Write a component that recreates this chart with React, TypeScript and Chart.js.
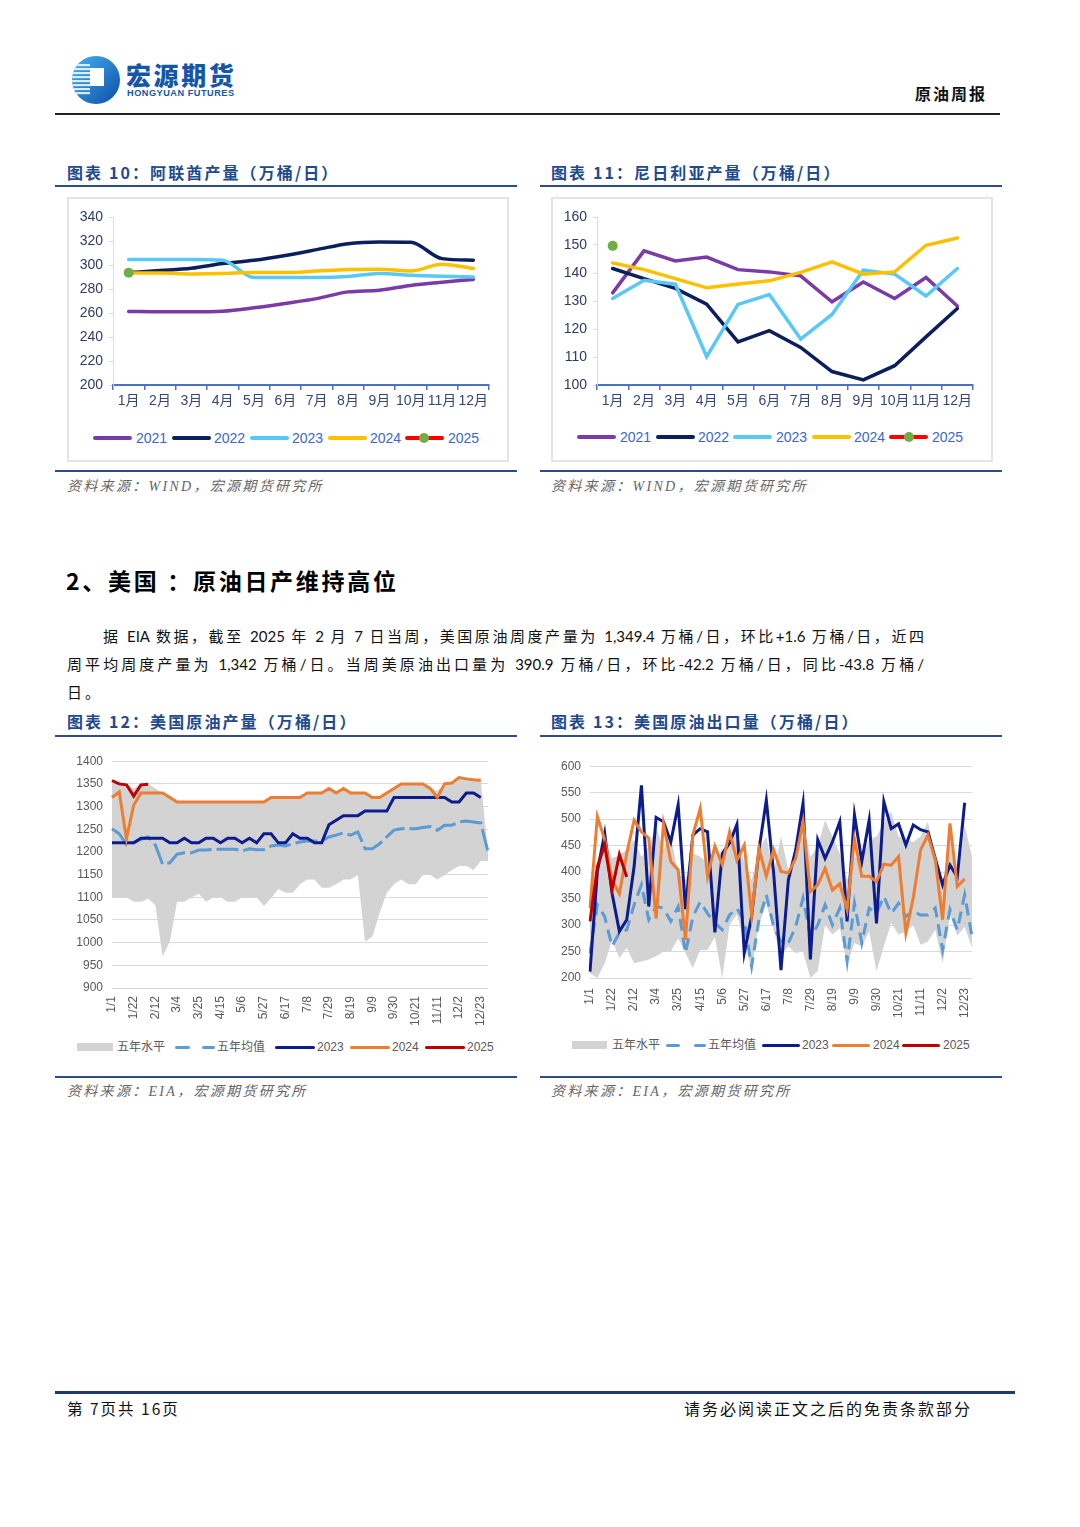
import React, { useEffect, useRef } from "react";
import { Chart, registerables } from "chart.js";

Chart.register(...registerables);

const FONT = "'Liberation Sans', Arial, 'Noto Sans CJK SC', sans-serif";
const CJK = "'Noto Sans CJK SC', 'Liberation Sans', sans-serif";
const PARA = "Lato, 'Noto Sans CJK SC', sans-serif";

// ---------- Chart 10 / 11 (monthly) ----------
const MONTHS = ["1月", "2月", "3月", "4月", "5月", "6月", "7月", "8月", "9月", "10月", "11月", "12月"];
const YEAR_LABELS = ["2021", "2022", "2023", "2024", "2025"];

const UAE_2021 = [261.3, 261, 261, 261.5, 264.3, 268, 272, 277.6, 279, 283, 285.7, 288];
const UAE_2022 = [293.7, 295.4, 297.3, 301.2, 304, 308, 312.8, 317.8, 319.2, 319, 305.3, 304];
const UAE_2023 = [304.5, 304.5, 304.5, 304, 289.5, 289.5, 289.5, 290.4, 293, 291.5, 290.6, 290];
const UAE_2024 = [293.4, 293.4, 292.6, 293, 293.7, 293.7, 295, 296.2, 296.5, 295, 300.6, 297];
const UAE_2025 = [293.5, null, null, null, null, null, null, null, null, null, null, null];

const NGA_2021 = [132.9, 147.9, 144.3, 145.7, 141.2, 140.4, 139, 129.7, 136.8, 130.9, 138.4, 128.2];
const NGA_2022 = [141.6, 138, 134.5, 128.9, 115.4, 119.4, 113.4, 104.8, 101.8, 106.9, 117.2, 127.3];
const NGA_2023 = [130.9, 137.4, 136, 110.1, 128.8, 132.3, 116.4, 125.2, 141, 139.6, 131.8, 141.6];
const NGA_2024 = [143.6, 141.2, 138, 134.7, 136.1, 137.2, 140.2, 144, 139.6, 140.4, 149.9, 152.5];
const NGA_2025 = [149.7, null, null, null, null, null, null, null, null, null, null, null];

const UAE_TICKS = { min: 200, max: 340, step: 20 };
const NGA_TICKS = { min: 100, max: 160, step: 10 };

const YEAR_COLORS = ["#7A3BA8", "#0B1F5E", "#58C9F6", "#FFC000", "#FF0000"];
const MARKER_GREEN = "#70AD47";

// ---------- Chart 12 / 13 (weekly) ----------
const WEEKS = [
  "1/1", "1/8", "1/15", "1/22", "1/29", "2/5", "2/12", "2/19", "2/26", "3/4", "3/11", "3/18", "3/25",
  "4/1", "4/8", "4/15", "4/22", "4/29", "5/6", "5/13", "5/20", "5/27", "6/3", "6/10", "6/17", "6/24",
  "7/1", "7/8", "7/15", "7/22", "7/29", "8/5", "8/12", "8/19", "8/26", "9/2", "9/9", "9/16", "9/23",
  "9/30", "10/7", "10/14", "10/21", "10/28", "11/4", "11/11", "11/18", "11/25", "12/2", "12/9", "12/16",
  "12/23", "12/30",
];
const WEEKLY_LEGEND = ["五年水平", "五年均值", "2023", "2024", "2025"];

const PROD_LOW = [1100, 1100, 1100, 1090, 1090, 1097, 1083, 970, 1002, 1090, 1090, 1100, 1108, 1090, 1100, 1100, 1090, 1090, 1100, 1100, 1100, 1081, 1098, 1118, 1110, 1110, 1129, 1139, 1139, 1121, 1121, 1129, 1139, 1139, 1149, 1002, 1013, 1065, 1110, 1129, 1139, 1129, 1129, 1149, 1149, 1139, 1149, 1160, 1169, 1169, 1160, 1180, 1180];
const PROD_HIGH = [1352, 1350, 1350, 1340, 1350, 1350, 1340, 1330, 1325, 1312, 1310, 1310, 1310, 1310, 1310, 1310, 1310, 1310, 1310, 1310, 1310, 1310, 1320, 1320, 1320, 1320, 1320, 1330, 1330, 1330, 1340, 1330, 1340, 1330, 1330, 1330, 1320, 1320, 1330, 1340, 1350, 1350, 1350, 1350, 1340, 1335, 1350, 1352, 1364, 1361, 1359, 1358, 1200];
const PROD_AVG = [1251, 1240, 1216, 1220, 1228, 1233, 1215, 1173, 1176, 1195, 1198, 1198, 1204, 1204, 1206, 1206, 1206, 1206, 1202, 1207, 1205, 1205, 1213, 1215, 1213, 1218, 1222, 1224, 1224, 1224, 1233, 1237, 1242, 1237, 1244, 1207, 1207, 1218, 1233, 1248, 1251, 1251, 1251, 1254, 1256, 1248, 1259, 1259, 1266, 1268, 1266, 1264, 1200];
const PROD_2023 = [1220, 1220, 1220, 1220, 1230, 1230, 1230, 1230, 1220, 1220, 1230, 1220, 1220, 1230, 1230, 1220, 1230, 1230, 1220, 1230, 1220, 1240, 1240, 1220, 1220, 1240, 1230, 1230, 1220, 1220, 1260, 1270, 1280, 1280, 1280, 1290, 1290, 1290, 1290, 1320, 1320, 1320, 1320, 1320, 1320, 1320, 1320, 1310, 1310, 1330, 1330, 1320, null];
const PROD_2024 = [1320, 1332, 1229, 1303, 1330, 1330, 1330, 1330, 1320, 1310, 1310, 1310, 1310, 1310, 1310, 1310, 1310, 1310, 1310, 1310, 1310, 1310, 1320, 1320, 1320, 1320, 1320, 1330, 1330, 1330, 1340, 1330, 1340, 1330, 1330, 1330, 1320, 1320, 1330, 1340, 1350, 1350, 1350, 1350, 1340, 1320, 1350, 1352, 1364, 1361, 1359, 1358, null];
const PROD_2025 = [1357, 1350, 1348, 1323, 1347.8, 1349.4, null, null, null, null, null, null, null, null, null, null, null, null, null, null, null, null, null, null, null, null, null, null, null, null, null, null, null, null, null, null, null, null, null, null, null, null, null, null, null, null, null, null, null, null, null, null, null];

const EXP_LOW = [209, 200, 228, 272, 238, 257, 228, 231, 235, 241, 250, 250, 275, 247, 219, 253, 253, 278, 200, 300, 320, 266, 216, 300, 340, 290, 241, 260, 247, 250, 200, 213, 300, 282, 294, 225, 266, 260, 288, 213, 260, 304, 282, 288, 300, 263, 269, 291, 228, 320, 280, 297, 257];
const EXP_HIGH = [335, 398, 467, 426, 432, 442, 461, 429, 448, 486, 442, 467, 398, 385, 435, 429, 417, 448, 420, 467, 483, 417, 385, 442, 467, 398, 467, 404, 435, 486, 429, 448, 498, 467, 435, 385, 429, 423, 461, 467, 492, 514, 467, 461, 457, 467, 495, 429, 379, 461, 373, 489, 429];
const EXP_AVG = [247, 338, 316, 260, 285, 291, 338, 376, 310, 335, 332, 307, 335, 247, 316, 344, 322, 304, 291, 319, 332, 307, 222, 310, 357, 297, 269, 266, 297, 351, 278, 300, 338, 300, 332, 231, 341, 266, 332, 322, 354, 322, 341, 316, 326, 319, 319, 332, 253, 329, 291, 357, 278];
const EXP_2023 = [212, 401, 473, 360, 288, 310, 410, 564, 335, 503, 495, 457, 527, 330, 470, 482, 476, 286, 435, 455, 490, 247, 316, 442, 536, 398, 215, 385, 442, 530, 235, 461, 426, 457, 495, 307, 508, 420, 498, 303, 533, 482, 491, 451, 489, 480, 476, 426, 376, 413, 391, 531, null];
const EXP_2024 = [332, 505, 461, 385, 359, 435, 498, 476, 464, 312, 491, 420, 404, 272, 470, 520, 392, 449, 414, 476, 422, 451, 319, 445, 392, 442, 401, 398, 426, 495, 363, 376, 407, 366, 378, 329, 462, 392, 392, 382, 415, 413, 429, 285, 351, 442, 470, 423, 310, 492, 373, 387, null];
const EXP_2025 = [307, 410, 451, 367, 433.1, 390.9, null, null, null, null, null, null, null, null, null, null, null, null, null, null, null, null, null, null, null, null, null, null, null, null, null, null, null, null, null, null, null, null, null, null, null, null, null, null, null, null, null, null, null, null, null, null, null];

const PROD_TICKS = { min: 900, max: 1400, step: 50 };
const EXP_TICKS = { min: 200, max: 600, step: 50 };

const BAND_GRAY = "#D3D3D3";
const AVG_BLUE = "#5B9BD5";
const NAVY = "#0C1C8C";
const ORANGE = "#ED7D31";
const RED = "#C00000";

// ---------- config builders ----------
function monthlyConfig(series: (number | null)[][], ticks: { min: number; max: number; step: number }, smooth: boolean): any {
  const datasets = series.map((data, i) => ({
    label: YEAR_LABELS[i],
    data,
    borderColor: YEAR_COLORS[i],
    backgroundColor: YEAR_COLORS[i],
    borderWidth: 3.5,
    pointRadius: i === 4 ? 5 : 0,
    pointBackgroundColor: i === 4 ? MARKER_GREEN : YEAR_COLORS[i],
    pointBorderWidth: 0,
    borderCapStyle: "round",
    cubicInterpolationMode: smooth ? "monotone" : "default",
    tension: 0,
    order: 4 - i,
  }));
  return {
    type: "line",
    data: { labels: MONTHS, datasets },
    options: {
      responsive: false,
      animation: false,
      devicePixelRatio: 1,
      layout: { padding: { top: 19, right: 19, bottom: 0, left: 0 } },
      plugins: { legend: { display: false }, tooltip: { enabled: false } },
      scales: {
        x: {
          type: "category",
          offset: true,
          grid: { offset: true, drawOnChartArea: false, drawTicks: true, tickLength: 5, color: "#4A72C4", lineWidth: 1.5 },
          border: { color: "#4A72C4", width: 2 },
          ticks: { color: "#34477A", font: { family: FONT, size: 14 }, padding: 3, maxRotation: 0, minRotation: 0, autoSkip: false },
          afterFit: (s: any) => { s.height = 30; },
        },
        y: {
          min: ticks.min,
          max: ticks.max,
          ticks: { stepSize: ticks.step, color: "#2D3B66", font: { family: FONT, size: 14 }, padding: 6, callback: (v: any) => String(v) },
          grid: { drawOnChartArea: false, drawTicks: true, tickLength: 4, color: "#D6DCE8" },
          border: { color: "#D6DCE8", width: 1 },
          afterFit: (s: any) => { s.width = 45; },
        },
      },
    },
  };
}

function weeklyConfig(
  low: number[], high: number[], avg: number[], y23: (number | null)[], y24: (number | null)[], y25: (number | null)[],
  ticks: { min: number; max: number; step: number }, yWidth: number, rightPad: number, xPad: number, dash: number[]
): any {
  const line = (label: string, data: any, color: string, order: number) => ({
    label, data, borderColor: color, backgroundColor: color, borderWidth: 3, pointRadius: 0, tension: 0, order, fill: false,
  });
  return {
    type: "line",
    data: {
      labels: WEEKS,
      datasets: [
        { label: WEEKLY_LEGEND[0] + "低", data: low, borderColor: "rgba(0,0,0,0)", backgroundColor: "rgba(0,0,0,0)", borderWidth: 0, pointRadius: 0, fill: false, order: 10 },
        { label: WEEKLY_LEGEND[0], data: high, borderColor: "rgba(0,0,0,0)", backgroundColor: BAND_GRAY, borderWidth: 0, pointRadius: 0, fill: "-1", order: 9 },
        { ...line(WEEKLY_LEGEND[1], avg, AVG_BLUE, 3), borderDash: dash },
        line(WEEKLY_LEGEND[2], y23, NAVY, 2),
        line(WEEKLY_LEGEND[3], y24, ORANGE, 1),
        line(WEEKLY_LEGEND[4], y25, RED, 0),
      ],
    },
    options: {
      responsive: false,
      animation: false,
      devicePixelRatio: 1,
      layout: { padding: { top: 16, right: rightPad, bottom: 0, left: 0 } },
      plugins: { legend: { display: false }, tooltip: { enabled: false }, filler: { drawTime: "beforeDatasetsDraw" } },
      scales: {
        x: {
          type: "category",
          offset: false,
          grid: { display: false, drawTicks: false },
          border: { display: false },
          ticks: {
            autoSkip: false, maxRotation: 90, minRotation: 90, padding: xPad, color: "#595959",
            font: { family: FONT, size: 12 },
            callback: (_v: any, i: number) => (i % 3 === 0 ? WEEKS[i] : ""),
          },
          afterFit: (s: any) => { s.height = 45; },
        },
        y: {
          min: ticks.min,
          max: ticks.max,
          ticks: { stepSize: ticks.step, color: "#595959", font: { family: FONT, size: 12 }, padding: 9, callback: (v: any) => String(v) },
          grid: { color: "#D9D9D9", drawTicks: false, lineWidth: 1 },
          border: { display: false },
          afterFit: (s: any) => { s.width = yWidth; },
        },
      },
    },
  };
}

function ChartCanvas({ left, top, width, height, make }: { left: number; top: number; width: number; height: number; make: () => any }) {
  const ref = useRef<HTMLCanvasElement>(null);
  useEffect(() => {
    const chart = new Chart(ref.current as HTMLCanvasElement, make());
    return () => chart.destroy();
  }, []);
  return <canvas ref={ref} width={width} height={height} style={{ position: "absolute", left, top, width, height }} />;
}

// ---------- small layout helpers ----------
const abs = (left: number, top: number, extra: any = {}) => ({ position: "absolute" as const, left, top, ...extra });

function MonthlyLegend({ lines, texts, cy, dotX }: { lines: number[]; texts: number[]; cy: number; dotX: number }) {
  return (
    <>
      {YEAR_LABELS.map((lab, i) => (
        <React.Fragment key={lab}>
          <div style={abs(lines[i], cy - 2, { width: 39, height: 4, borderRadius: 2, background: YEAR_COLORS[i] })} />
          <div style={abs(texts[i], cy - 9, { fontFamily: FONT, fontSize: 14, lineHeight: "18px", color: "#3B66D2", whiteSpace: "nowrap" })}>{lab}</div>
        </React.Fragment>
      ))}
      <div style={abs(dotX - 5, cy - 5, { width: 10, height: 10, borderRadius: 5, background: MARKER_GREEN })} />
    </>
  );
}

function WeeklyLegend({ cy, rect, t1, d1, d2, t2, l3, t3, l4, t4, l5, t5, lw }: any) {
  const txt = (x: number, s: string) => (
    <div style={abs(x, cy - 8, { fontFamily: FONT, fontSize: 12, lineHeight: "16px", color: "#595959", whiteSpace: "nowrap" })}>{s}</div>
  );
  const bar = (x: number, w: number, c: string) => <div style={abs(x, cy - 1.5, { width: w, height: 3, borderRadius: 1.5, background: c })} />;
  return (
    <>
      <div style={abs(rect[0], cy - 4, { width: rect[1] - rect[0], height: 8, background: BAND_GRAY })} />
      {txt(t1, WEEKLY_LEGEND[0])}
      {bar(d1[0], d1[1], AVG_BLUE)}
      {bar(d2[0], d2[1], AVG_BLUE)}
      {txt(t2, WEEKLY_LEGEND[1])}
      {bar(l3, lw, NAVY)}
      {txt(t3, WEEKLY_LEGEND[2])}
      {bar(l4, lw, ORANGE)}
      {txt(t4, WEEKLY_LEGEND[3])}
      {bar(l5, lw, RED)}
      {txt(t5, WEEKLY_LEGEND[4])}
    </>
  );
}

const TITLE_BLUE = "#1F4A8F";
const RULE_BLUE = "#2E4C8A";

function Title({ x, y, text }: { x: number; y: number; text: string }) {
  return (
    <div style={abs(x, y - 11, { fontFamily: CJK, fontSize: 16, fontWeight: 700, lineHeight: "22px", letterSpacing: 2.1, color: TITLE_BLUE, whiteSpace: "nowrap" })}>
      {text}
    </div>
  );
}
function Rule({ x, y, w, h = 2, c = RULE_BLUE }: { x: number; y: number; w: number; h?: number; c?: string }) {
  return <div style={abs(x, y, { width: w, height: h, background: c })} />;
}
function Source({ x, y, text }: { x: number; y: number; text: string }) {
  return (
    <div style={abs(x, y - 10, { fontFamily: "'Liberation Serif', 'Noto Sans CJK SC', serif", fontStyle: "italic", fontSize: 14, lineHeight: "20px", letterSpacing: 2.3, color: "#666666", whiteSpace: "nowrap" })}>
      {text}
    </div>
  );
}

function Logo() {
  const stripes = [0, 1, 2, 3, 4, 5, 6, 7];
  return (
    <svg style={abs(71, 55)} width={50} height={50} viewBox="0 0 50 50">
      <defs>
        <linearGradient id="lgBlue" x1="0" y1="0" x2="1" y2="1">
          <stop offset="0" stopColor="#49B0F0" />
          <stop offset="1" stopColor="#0A4FA6" />
        </linearGradient>
        <clipPath id="lgClip">
          <circle cx="25" cy="25" r="24" />
        </clipPath>
      </defs>
      <circle cx="25" cy="25" r="24" fill="url(#lgBlue)" />
      <g clipPath="url(#lgClip)">
        {stripes.map((i) => (
          <rect key={i} x={0} y={9 + i * 4} width={19} height={2.2} fill="#D8EEFC" />
        ))}
      </g>
      <rect x={19} y={13} width={14} height={18} fill="#FFFFFF" />
    </svg>
  );
}

export default function App() {
  return (
    <div style={{ position: "absolute", left: 0, top: 0, width: 1080, height: 1527, background: "#fff", overflow: "hidden", fontFamily: CJK }}>
      {/* header */}
      <Logo />
      <div style={abs(126, 60, { fontFamily: CJK, fontSize: 25, fontWeight: 900, lineHeight: "28px", letterSpacing: 2.6, color: "#1656A8", whiteSpace: "nowrap" })}>宏源期货</div>
      <div style={abs(127, 88, { fontFamily: FONT, fontSize: 9.2, fontWeight: 700, lineHeight: "10px", letterSpacing: 0.5, color: "#1656A8", whiteSpace: "nowrap" })}>HONGYUAN FUTURES</div>
      <div style={abs(915, 83, { fontFamily: CJK, fontSize: 16, fontWeight: 700, lineHeight: "20px", letterSpacing: 2, color: "#111", whiteSpace: "nowrap" })}>原油周报</div>
      <Rule x={55} y={113} w={945} h={2} c="#222" />

      {/* chart 10 */}
      <Title x={67} y={172} text="图表 10：阿联酋产量（万桶/日）" />
      <Rule x={55} y={185} w={462} />
      <div style={abs(67, 197, { width: 442, height: 265, boxSizing: "border-box", border: "2px solid #E4E4E4" })} />
      <ChartCanvas left={68} top={198} width={440} height={217} make={() => monthlyConfig([UAE_2021, UAE_2022, UAE_2023, UAE_2024, UAE_2025], UAE_TICKS, true)} />
      <MonthlyLegend lines={[93, 172, 250, 328, 405]} texts={[136, 214, 292, 370, 448]} cy={438} dotX={424} />
      <Rule x={55} y={470} w={462} />
      <Source x={67} y={487} text="资料来源：WIND，宏源期货研究所" />

      {/* chart 11 */}
      <Title x={551} y={172} text="图表 11：尼日利亚产量（万桶/日）" />
      <Rule x={540} y={185} w={462} />
      <div style={abs(551, 197, { width: 442, height: 265, boxSizing: "border-box", border: "2px solid #E4E4E4" })} />
      <ChartCanvas left={552} top={198} width={440} height={217} make={() => monthlyConfig([NGA_2021, NGA_2022, NGA_2023, NGA_2024, NGA_2025], NGA_TICKS, false)} />
      <MonthlyLegend lines={[577, 656, 733, 812, 889]} texts={[620, 698, 776, 854, 932]} cy={437} dotX={909} />
      <Rule x={540} y={470} w={462} />
      <Source x={551} y={487} text="资料来源：WIND，宏源期货研究所" />

      {/* section text */}
      <div style={abs(66, 566, { fontFamily: CJK, fontSize: 23, fontWeight: 700, lineHeight: "28px", letterSpacing: 2.7, color: "#000", whiteSpace: "nowrap" })}>2、美国 ：原油日产维持高位</div>
      <div style={abs(103, 626, { width: 821, fontFamily: PARA, fontSize: 15, lineHeight: "20px", color: "#111", textAlign: "justify", textAlignLast: "justify" })}>
        据 EIA 数据，截至 2025 年 2 月 7 日当周，美国原油周度产量为 1,349.4 万桶/日，环比+1.6 万桶/日，近四
      </div>
      <div style={abs(67, 654, { width: 857, fontFamily: PARA, fontSize: 15, lineHeight: "20px", color: "#111", textAlign: "justify", textAlignLast: "justify" })}>
        周平均周度产量为 1,342 万桶/日。当周美原油出口量为 390.9 万桶/日，环比-42.2 万桶/日，同比-43.8 万桶/
      </div>
      <div style={abs(67, 682, { fontFamily: PARA, fontSize: 15, lineHeight: "20px", color: "#111", letterSpacing: 3 })}>日。</div>

      {/* chart 12 */}
      <Title x={67} y={721} text="图表 12：美国原油产量（万桶/日）" />
      <Rule x={55} y={735} w={462} />
      <ChartCanvas left={55} top={745} width={462} height={288}
        make={() => weeklyConfig(PROD_LOW, PROD_HIGH, PROD_AVG, PROD_2023, PROD_2024, PROD_2025, PROD_TICKS, 57, 29, 8, [22, 5])} />
      <WeeklyLegend cy={1047} rect={[77, 113]} t1={117} d1={[175, 15]} d2={[202, 13]} t2={217} l3={275} t3={317} l4={350} t4={392} l5={425} t5={467} lw={40} />
      <Rule x={55} y={1076} w={462} />
      <Source x={67} y={1092} text="资料来源：EIA，宏源期货研究所" />

      {/* chart 13 */}
      <Title x={551} y={721} text="图表 13：美国原油出口量（万桶/日）" />
      <Rule x={540} y={735} w={462} />
      <ChartCanvas left={540} top={750} width={462} height={273}
        make={() => weeklyConfig(EXP_LOW, EXP_HIGH, EXP_AVG, EXP_2023, EXP_2024, EXP_2025, EXP_TICKS, 50, 30, 10, [12, 7])} />
      <WeeklyLegend cy={1045} rect={[572, 607]} t1={612} d1={[666, 14]} d2={[694, 12]} t2={708} l3={762} t3={802} l4={832} t4={873} l5={902} t5={943} lw={38} />
      <Rule x={540} y={1076} w={462} />
      <Source x={551} y={1092} text="资料来源：EIA，宏源期货研究所" />

      {/* footer */}
      <Rule x={55} y={1391} w={960} h={3} c="#1F3A6E" />
      <div style={abs(67, 1398, { fontFamily: CJK, fontSize: 15.5, lineHeight: "20px", letterSpacing: 2, color: "#111", whiteSpace: "nowrap" })}>第 7页共 16页</div>
      <div style={abs(684, 1398, { fontFamily: CJK, fontSize: 16, lineHeight: "20px", letterSpacing: 2, color: "#111", whiteSpace: "nowrap" })}>请务必阅读正文之后的免责条款部分</div>
    </div>
  );
}
